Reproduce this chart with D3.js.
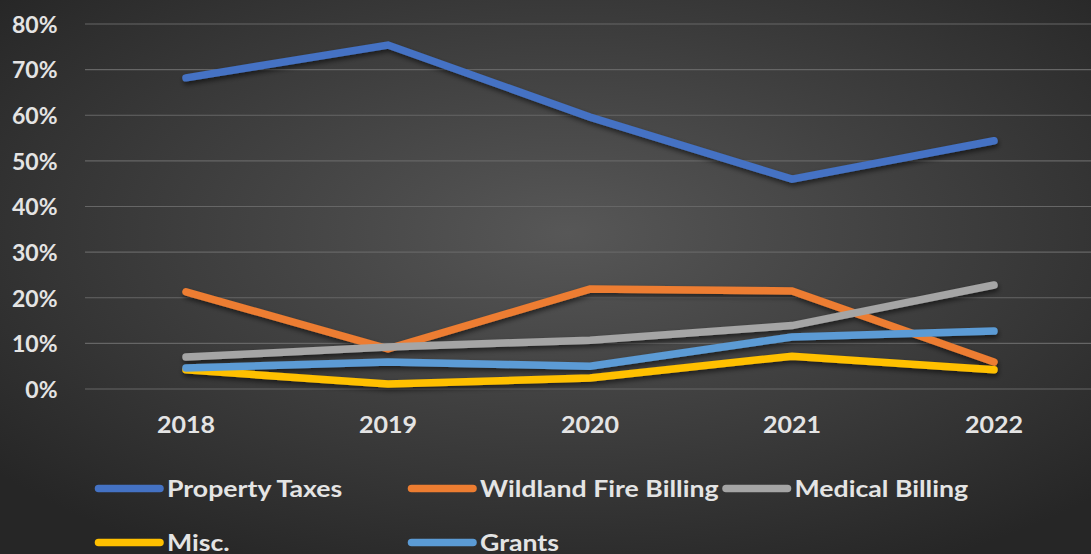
<!DOCTYPE html>
<html><head><meta charset="utf-8">
<script src="https://cdn.jsdelivr.net/npm/d3@7"></script>
<style>html,body{margin:0;padding:0;background:#333;}svg{display:block;}</style>
</head><body>
<svg id="chart" width="1091" height="554"></svg>
<script>
const years = ["2018","2019","2020","2021","2022"];
const seriesNames = ["Property Taxes","Wildland Fire Billing","Medical Billing","Misc.","Grants"];
const propertyTaxes = [68.2, 75.4, 59.6, 46.0, 54.4];
const wildlandFire = [21.3, 8.8, 21.9, 21.5, 5.9];
const medicalBilling = [7.0, 9.2, 10.7, 13.9, 22.8];
const misc = [4.2, 1.1, 2.4, 7.2, 4.2];
const grants = [4.6, 5.9, 5.0, 11.4, 12.7];
const yTicks = [0,10,20,30,40,50,60,70,80];
const colors = ["#4472C4","#ED7D31","#A5A5A5","#FFC000","#5B9BD5"];

const seriesValues = [propertyTaxes, wildlandFire, medicalBilling, misc, grants];
const data = seriesNames.map((n,i)=>({name:n, color:colors[i], values:seriesValues[i]}));

const svg = d3.select("#chart");
const W = 1091, H = 554;
const defs = svg.append("defs");
const rg = defs.append("radialGradient").attr("id","bg").attr("cx","52%").attr("cy","42%").attr("r","68%");
rg.append("stop").attr("offset","0%").attr("stop-color","#575757");
rg.append("stop").attr("offset","100%").attr("stop-color","#262626");
const f = defs.append("filter").attr("id","sh").attr("x","-10%").attr("y","-50%").attr("width","120%").attr("height","200%");
f.append("feDropShadow").attr("dx",1).attr("dy",3).attr("stdDeviation",2.5).attr("flood-color","#000").attr("flood-opacity",0.55);

svg.append("rect").attr("width",W).attr("height",H).attr("fill","url(#bg)");

const x = d3.scaleBand().domain(years).range([85, 1095]);
const y = d3.scaleLinear().domain([0,80]).range([389, 24]);

// gridlines
svg.append("g").selectAll("line").data(yTicks).join("line")
  .attr("x1",85).attr("x2",1091)
  .attr("y1",d=>y(d)).attr("y2",d=>y(d))
  .attr("stroke","#666").attr("stroke-width",1.2);

const font = "Lato, 'Open Sans', sans-serif";
const txt = "#e4e4e4";
// y axis
const yAxis = d3.axisLeft(y).tickValues(yTicks).tickFormat(d=>d+"%").tickSize(0).tickPadding(0);
const gy = svg.append("g").attr("transform","translate(57.5,0)").call(yAxis);
gy.select(".domain").remove();
gy.selectAll("text").attr("fill",txt).attr("font-family",font).attr("font-weight","bold").attr("font-size","23px").attr("dy","0.36em");

// x axis
const xAxis = d3.axisBottom(x).tickSize(0).tickPadding(0);
const gx = svg.append("g").attr("transform","translate(0,417)").call(xAxis);
gx.select(".domain").remove();
gx.selectAll("text").attr("fill",txt).attr("font-family",font).attr("font-weight","bold").attr("font-size","23px")
  .attr("transform","scale(1.09,1)");

// lines
const line = d3.line().x((d,i)=>x(years[i])+x.bandwidth()/2).y(d=>y(d));
svg.append("g").attr("filter","url(#sh)").selectAll("path").data(data).join("path")
  .attr("d",d=>line(d.values)).attr("fill","none").attr("stroke",d=>d.color)
  .attr("stroke-width",7.5).attr("stroke-linecap","round").attr("stroke-linejoin","miter");

// legend
const legPos = [[95,488.5],[408,488.5],[722.5,488.5],[95,542.5],[408,542.5]];
const lg = svg.append("g").selectAll("g").data(data).join("g")
  .attr("transform",(d,i)=>`translate(${legPos[i][0]},${legPos[i][1]})`);
lg.append("line").attr("x1",3.5).attr("x2",65).attr("y1",0).attr("y2",0)
  .attr("stroke",d=>d.color).attr("stroke-width",7.5).attr("stroke-linecap","round");
lg.append("text").attr("transform","translate(72,0) scale(1.16,1)").attr("dy","0.36em").text(d=>d.name)
  .attr("fill",txt).attr("font-family",font).attr("font-weight","bold").attr("font-size","23px");
</script>
</body></html>
